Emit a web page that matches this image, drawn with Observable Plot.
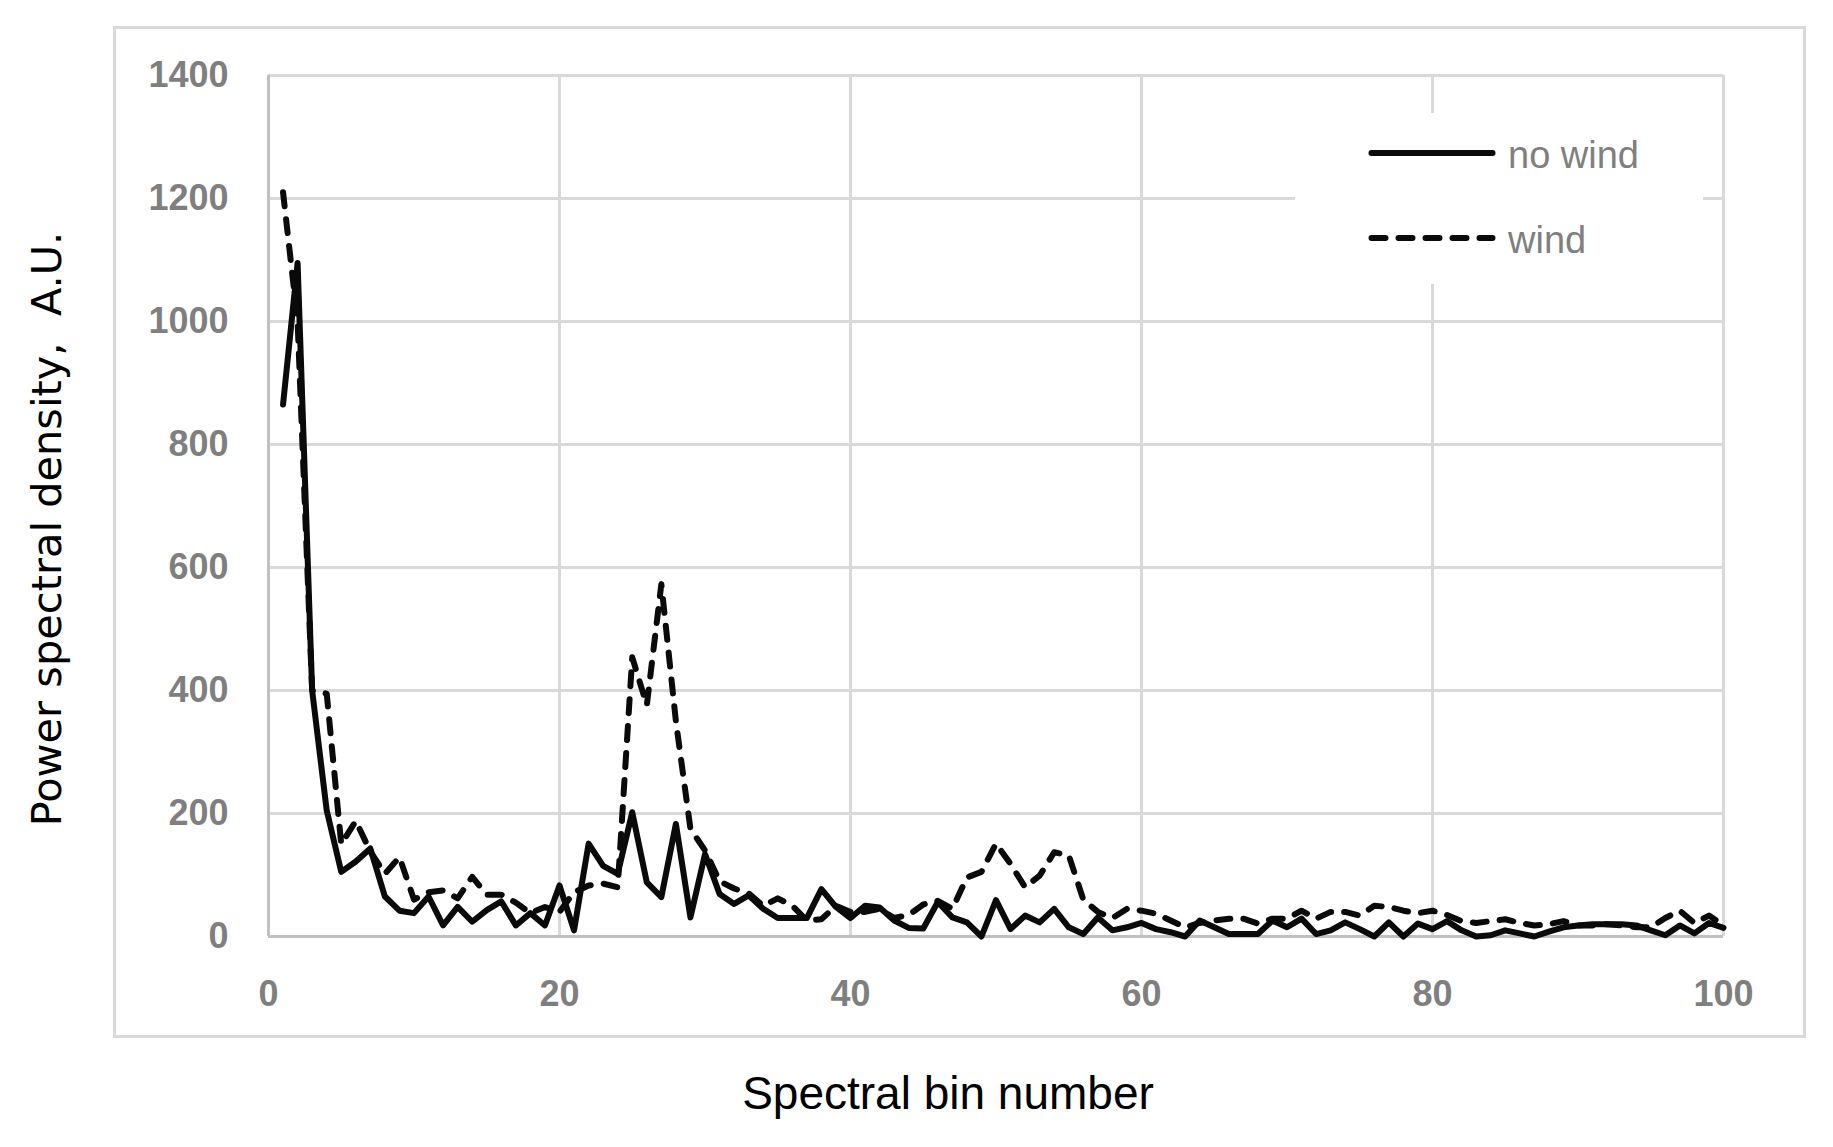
<!DOCTYPE html>
<html>
<head>
<meta charset="utf-8">
<script src="https://cdn.jsdelivr.net/npm/d3@7"></script>
<script src="https://cdn.jsdelivr.net/npm/@observablehq/plot@0.6"></script>
<style>
  html, body { margin: 0; padding: 0; background: #fff; }
  #wrap { position: relative; width: 1833px; height: 1147px; background: #fff; overflow: hidden; }
  #border { position: absolute; left: 113px; top: 26px; width: 1693px; height: 1012px; box-sizing: border-box; border: 3px solid #d9d9d9; }
  #chart { position: absolute; left: 0; top: 0; }
  #legend { position: absolute; left: 1295px; top: 113px; width: 408px; height: 171px; background: #fff; }
</style>
</head>
<body>
<div id="wrap">
  <div id="border"></div>
  <div id="chart"></div>
  <div id="legend"></div>
</div>
<script>
const bins = [1,2,3,4,5,6,7,8,9,10,11,12,13,14,15,16,17,18,19,20,
  21,22,23,24,25,26,27,28,29,30,31,32,33,34,35,36,37,38,39,40,
  41,42,43,44,45,46,47,48,49,50,51,52,53,54,55,56,57,58,59,60,
  61,62,63,64,65,66,67,68,69,70,71,72,73,74,75,76,77,78,79,80,
  81,82,83,84,85,86,87,88,89,90,91,92,93,94,95,96,97,98,99,100];

const noWindValues = [865,1095,400,205,105,122,143,65,42,38,65,18,48,24,43,57,18,38,18,83,
  10,151,115,102,202,88,64,183,31,134,69,53,67,45,30,30,30,77,48,30,
  50,47,26,14,13,56,31,23,0,59,12,34,23,45,15,4,31,10,15,22,
  12,7,0,26,15,4,4,4,26,15,29,4,10,23,12,0,23,0,21,12,
  25,10,0,2,10,5,0,8,15,18,20,20,20,18,10,2,18,5,22,14];

const windValues = [1210,1000,400,395,150,188,138,102,129,60,72,75,62,97,68,68,55,38,48,40,
  72,83,86,80,454,376,573,350,175,140,90,78,70,50,62,50,26,28,50,40,
  40,45,30,35,52,58,45,96,105,151,118,80,99,137,132,60,40,30,45,42,
  37,26,15,22,26,29,29,21,29,29,42,29,40,40,34,50,48,42,38,42,
  35,25,22,25,28,22,18,20,25,18,18,20,18,15,15,30,42,22,34,18];

const xTicks = [0, 20, 40, 60, 80, 100];
const yTicks = [0, 200, 400, 600, 800, 1000, 1200, 1400];
const seriesNames = ["no wind", "wind"];
const xTitle = "Spectral bin number";
const yTitle = "Power spectral density,  A.U.";

const noWind = bins.map((b, i) => ({bin: b, value: noWindValues[i]}));
const wind = bins.map((b, i) => ({bin: b, value: windValues[i]}));

const lineStyle = {x: "bin", y: "value", stroke: "#0a0a0a", strokeWidth: 6, strokeLinejoin: "round", strokeLinecap: "round"};
const tickStyle = {tickSize: 0, fontSize: 36, fontWeight: "bold", fill: "#7f7f7f", label: null, tickFormat: d3.format("d")};

const chart = Plot.plot({
  width: 1833,
  height: 1147,
  marginLeft: 268,
  marginRight: 110,
  marginTop: 75,
  marginBottom: 211,
  x: {domain: [0, 100]},
  y: {domain: [0, 1400]},
  style: {fontFamily: "'Liberation Sans', Arial, sans-serif", background: "transparent", overflow: "visible"},
  marks: [
    Plot.gridX(xTicks, {stroke: "#d9d9d9", strokeOpacity: 1, strokeWidth: 3}),
    Plot.gridY(yTicks, {stroke: "#d9d9d9", strokeOpacity: 1, strokeWidth: 3}),
    Plot.ruleX([0], {stroke: "#c0c0c0", strokeWidth: 3}),
    Plot.ruleY([0], {stroke: "#c0c0c0", strokeWidth: 3}),
    Plot.axisX(xTicks, {...tickStyle, tickPadding: 44}),
    Plot.axisY(yTicks, {...tickStyle, tickPadding: 40}),
    Plot.lineY(noWind, lineStyle),
    Plot.lineY(wind, {...lineStyle, strokeDasharray: "14,13"}),
    Plot.text([yTitle], {frameAnchor: "left", textAnchor: "middle", dx: -221, dy: 23, rotate: -90, fontSize: 41.5, fontFamily: "'DejaVu Sans', sans-serif", fill: "#000"}),
    Plot.text([xTitle], {frameAnchor: "bottom", dx: -48, dy: 172, fontSize: 46, fill: "#000"})
  ]
});
document.getElementById("chart").appendChild(chart);

// Legend (inside the plot area, upper right)
const lg = d3.select("#legend").append("svg").attr("width", 408).attr("height", 171)
  .style("font-family", "'Liberation Sans', Arial, sans-serif");
const lgRows = [{name: seriesNames[0], y: 40, dash: null}, {name: seriesNames[1], y: 125, dash: "14,13"}];
lgRows.forEach(r => {
  lg.append("line").attr("x1", 76.5).attr("x2", 197.5).attr("y1", r.y).attr("y2", r.y)
    .attr("stroke", "#0a0a0a").attr("stroke-width", 6).attr("stroke-linecap", "round")
    .attr("stroke-dasharray", r.dash);
  lg.append("text").attr("x", 213).attr("y", r.y + 15).attr("font-size", 38).attr("fill", "#7f7f7f").text(r.name);
});
</script>
</body>
</html>
